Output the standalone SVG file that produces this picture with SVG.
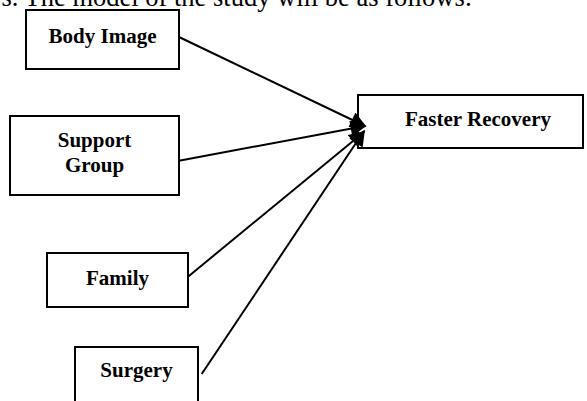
<svg xmlns="http://www.w3.org/2000/svg" width="587" height="401" viewBox="0 0 587 401">
<defs>
<style>
.box{fill:#fff;stroke:#000;stroke-width:2}
.lbl{font-family:"Liberation Serif","Times New Roman",serif;font-weight:bold;font-size:21px;fill:#000;text-anchor:middle}
.cap{font-family:"Liberation Serif","Times New Roman",serif;font-size:26.5px;fill:#000}
.edge{stroke:#000;stroke-width:2;fill:none;marker-end:url(#ah)}
</style>
<marker id="ah" viewBox="0 0 10 10" refX="9" refY="5" markerWidth="8.5" markerHeight="8" markerUnits="strokeWidth" orient="auto">
<path d="M0,0 L10,5 L0,10 z" fill="#000"/>
</marker>
</defs>
<rect width="587" height="401" fill="#fff"/>
<text class="cap" x="1.5" y="6">s. The model of the study will be as follows:</text>
<g id="body-image">
<rect class="box" x="26" y="10" width="153" height="59"/>
<text class="lbl" x="102.5" y="43">Body Image</text>
</g>
<g id="support-group">
<rect class="box" x="10" y="116" width="169" height="79"/>
<text class="lbl" x="94.5" y="147">Support</text>
<text class="lbl" x="94.5" y="172">Group</text>
</g>
<g id="family">
<rect class="box" x="47" y="253" width="141" height="54"/>
<text class="lbl" x="117.5" y="285">Family</text>
</g>
<g id="surgery">
<rect class="box" x="75" y="347" width="123" height="70"/>
<text class="lbl" x="136.5" y="377">Surgery</text>
</g>
<g id="faster-recovery">
<rect class="box" x="358" y="95" width="225" height="53"/>
<text class="lbl" x="478" y="126">Faster Recovery</text>
</g>
<g id="connectors">
<line class="edge" x1="179" y1="37" x2="365" y2="126"/>
<line class="edge" x1="179" y1="160.7" x2="365" y2="126"/>
<line class="edge" x1="188" y1="276.7" x2="364" y2="132"/>
<line class="edge" x1="201.7" y1="374" x2="364" y2="131"/>
</g>
</svg>
